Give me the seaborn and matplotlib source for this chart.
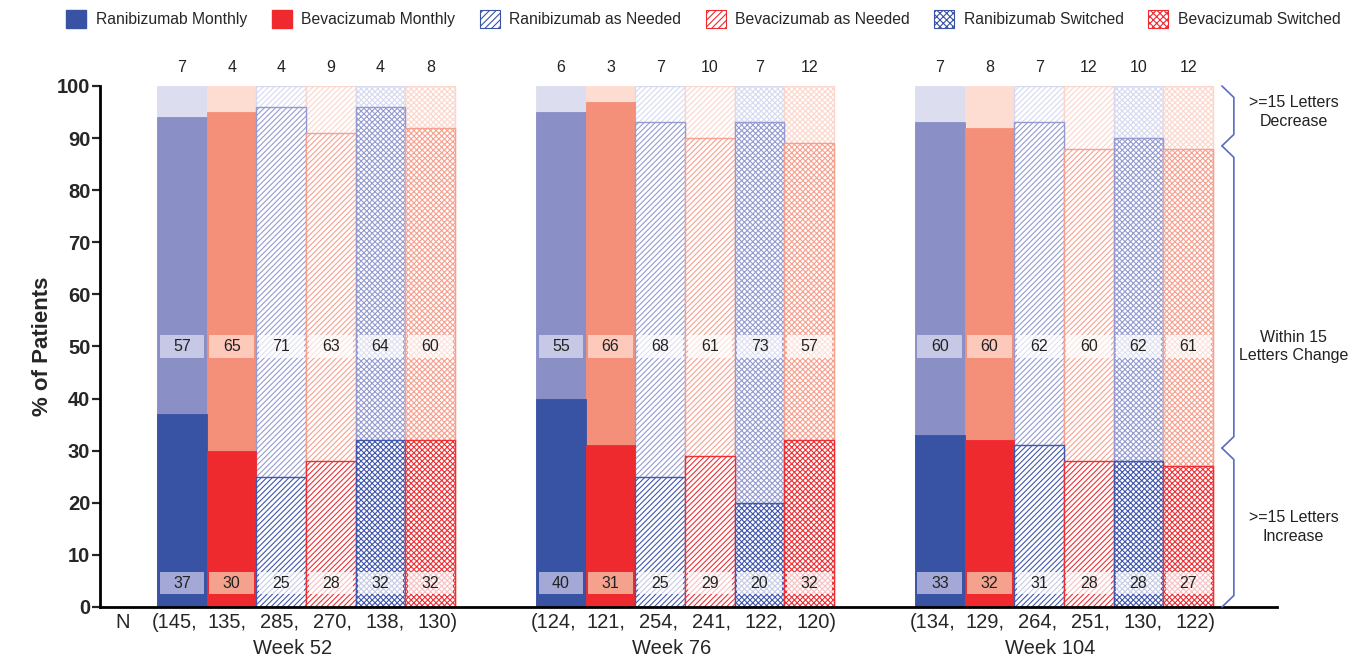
import numpy as np
import pandas as pd
import matplotlib
matplotlib.use("Agg")
import matplotlib.pyplot as plt
from matplotlib.patches import Patch, Rectangle
import seaborn as sns

# ---- data -------------------------------------------------------------
arms = ["Ranibizumab Monthly", "Bevacizumab Monthly", "Ranibizumab as Needed",
        "Bevacizumab as Needed", "Ranibizumab Switched", "Bevacizumab Switched"]
weeks = ["Week 52", "Week 76", "Week 104"]

gain_15 = [[37, 30, 25, 28, 32, 32],
           [40, 31, 25, 29, 20, 32],
           [33, 32, 31, 28, 28, 27]]
within_15 = [[57, 65, 71, 63, 64, 60],
             [55, 66, 68, 61, 73, 57],
             [60, 60, 62, 60, 62, 61]]
loss_15 = [[7, 4, 4, 9, 4, 8],
           [6, 3, 7, 10, 7, 12],
           [7, 8, 7, 12, 10, 12]]
n_patients = [[145, 135, 285, 270, 138, 130],
              [124, 121, 254, 241, 122, 120],
              [134, 129, 264, 251, 130, 122]]

band_labels = [">=15 Letters\nIncrease", "Within 15\nLetters Change",
               ">=15 Letters\nDecrease"]
band_edges = [0, 30.5, 88.5, 100]
band_label_y = [15.3, 50, 95]
yticks = list(range(0, 101, 10))

# ---- styling ----------------------------------------------------------
shades = {
    "blue": {"gain": "#3953A4", "within": "#8A8FC6", "loss": "#DCDDEE"},
    "red": {"gain": "#EE2A2F", "within": "#F4907A", "loss": "#FDDDD2"},
}
hatched_shades = {
    "blue": {"gain": "#4257AE", "within": "#959BD0", "loss": "#D6D9EF"},
    "red": {"gain": "#EE3035", "within": "#F7A08E", "loss": "#FCD6CB"},
}
box_solid = {
    "blue": {"gain": "#A3A8D6", "within": "#C6C8E6"},
    "red": {"gain": "#F4A28E", "within": "#FCC9BA"},
}
arm_drug = ["blue", "red", "blue", "red", "blue", "red"]
arm_hatch = [None, None, "//////", "//////", "xxxxxx", "xxxxxx"]
legend_hatch = [None, None, "/////", "/////", "xxxxx", "xxxxx"]

sns.set_style("ticks")
plt.rcParams["font.family"] = ["Liberation Sans", "DejaVu Sans"]
plt.rcParams["hatch.linewidth"] = 0.8

group_gap = 7.63
positions = []
rows = []
for g, wk in enumerate(weeks):
    for i, arm in enumerate(arms):
        x = g * group_gap + (i - 2.5)
        positions.append(x)
        rows.append({"week": wk, "arm": arm, "x": x,
                     "gain": gain_15[g][i], "within": within_15[g][i],
                     "loss": loss_15[g][i], "n": n_patients[g][i],
                     "drug": arm_drug[i], "hatch": arm_hatch[i]})
df = pd.DataFrame(rows)
df["total"] = 100
df["top_within"] = df["gain"] + df["within"]

fig = plt.figure(figsize=(13.72, 6.66), dpi=100)
ax = fig.add_axes([0.0729, 0.0886, 0.8579, 0.7823])


def style_layer(new_patches, segment):
    for p in new_patches:
        cx = p.get_x() + p.get_width() / 2
        k = int(np.argmin(np.abs(df["x"].values - cx)))
        r = df.iloc[k]
        if r["hatch"] is None:
            c = shades[r["drug"]][segment]
            p.set_facecolor(c)
            p.set_edgecolor(c)
            p.set_linewidth(0.6)
            p.set_hatch(None)
        else:
            c = hatched_shades[r["drug"]][segment]
            p.set_facecolor("white")
            p.set_edgecolor(c)
            p.set_linewidth(1.0)
            p.set_hatch(r["hatch"])


# 100% column in the "decrease" style, then the lower segments on top of it
for col, seg in [("total", "loss"), ("top_within", "within"), ("gain", "gain")]:
    n_before = len(ax.patches)
    sns.barplot(data=df, x="x", y=col, native_scale=True, width=1.0,
                errorbar=None, color="white", saturation=1, ax=ax)
    style_layer(ax.patches[n_before:], seg)

# ---- value labels ------------------------------------------------------
box_w, box_h = 0.9, 4.4
for _, r in df.iterrows():
    for seg, yc, val in [("gain", 4.6, r["gain"]), ("within", 50.0, r["within"])]:
        if r["hatch"] is None:
            fc, a = box_solid[r["drug"]][seg], 1.0
        else:
            fc, a = "white", 0.7
        ax.add_patch(Rectangle((r["x"] - box_w / 2, yc - box_h / 2), box_w, box_h,
                               facecolor=fc, edgecolor="none", alpha=a, zorder=5))
        ax.text(r["x"], yc, f"{val}", ha="center", va="center",
                fontsize=11.5, color="#222222", zorder=6)
    ax.text(r["x"], 103.5, f"{r['loss']}", ha="center", va="center",
            fontsize=11.5, color="#222222", clip_on=False)

# ---- axes --------------------------------------------------------------
ax.set_ylim(0, 100)
ax.set_xlim(-4.15, 2 * group_gap + 4.29)
ax.set_yticks(yticks)
ax.set_yticklabels([str(t) for t in yticks], fontsize=14.5, fontweight="bold")
ax.set_ylabel("% of Patients", fontsize=16, fontweight="bold", labelpad=3)
ax.set_xlabel("")

# sample-size row: one entry per bar, written as "(n1, n2, ..., n6)"
tick_pos, tick_labels = [], []
for g in range(len(weeks)):
    for i, n in enumerate(n_patients[g]):
        tick_pos.append(g * group_gap + (i - 2.5) * 1.06)
        if i == 0:
            tick_labels.append(f"({n},")
        elif i == len(arms) - 1:
            tick_labels.append(f"{n})")
        else:
            tick_labels.append(f"{n},")
ax.set_xticks(tick_pos)
ax.set_xticklabels(tick_labels, fontsize=14.5)
ax.tick_params(axis="x", length=0, pad=4)
ax.tick_params(axis="y", length=6, width=1.6, pad=1)

for side in ["top", "right"]:
    ax.spines[side].set_visible(False)
for side in ["left", "bottom"]:
    ax.spines[side].set_linewidth(2)
    ax.spines[side].set_color("black")

xform = ax.get_xaxis_transform()
ax.text(-3.7, -0.029, "N", transform=xform, ha="center", va="center",
        fontsize=14.5)
for g, wk in enumerate(weeks):
    ax.text(g * group_gap - 0.28, -0.079, wk, transform=xform, ha="center",
            va="center", fontsize=14.5)

# ---- brace annotations -------------------------------------------------
x_tip = 2 * group_gap + 2.5 + 0.68
x_bar = 2 * group_gap + 2.5 + 0.92
dy = 2.2
for k in range(len(band_labels)):
    lo, hi = band_edges[k], band_edges[k + 1]
    ax.plot([x_tip, x_bar, x_bar, x_tip], [lo, lo + dy, hi - dy, hi],
            color="#5A6CC0", lw=1.2, clip_on=False, zorder=4)
    ax.text(2 * group_gap + 4.62, band_label_y[k], band_labels[k], ha="center",
            va="center", fontsize=11.5, color="#222222", clip_on=False,
            linespacing=1.3)

# ---- legend -------------------------------------------------------------
handles = []
for i, arm in enumerate(arms):
    c = shades[arm_drug[i]]["gain"]
    if arm_hatch[i] is None:
        handles.append(Patch(facecolor=c, edgecolor=c, label=arm))
    else:
        handles.append(Patch(facecolor="white", edgecolor=c, hatch=legend_hatch[i],
                             label=arm, linewidth=0.8))
fig.legend(handles=handles, loc="center", bbox_to_anchor=(0.5128, 0.9715),
           ncol=6, frameon=False, fontsize=11.3, handlelength=1.27,
           handleheight=1.35, handletextpad=0.62, columnspacing=1.55,
           borderpad=0, borderaxespad=0)

fig.savefig("out.png", dpi=100)
